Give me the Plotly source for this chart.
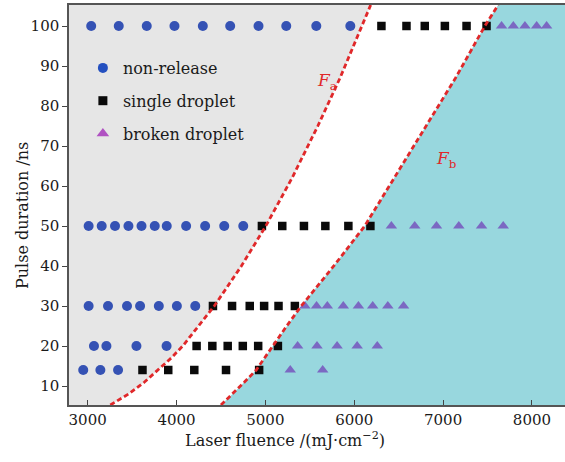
import plotly.graph_objects as go

# ---- data ----
# non-release (circles), fluence in mJ/cm^2 for each pulse duration row
nr_100 = [3040, 3350, 3665, 3977, 4296, 4604, 4923, 5235, 5573, 5956]
nr_50 = [3011, 3158, 3308, 3459, 3606, 3755, 3890, 4108, 4322, 4537, 4751]
nr_30 = [3011, 3229, 3443, 3590, 3801, 4004, 4211]
nr_20 = [3071, 3211, 3549, 3888]
nr_14 = [2950, 3143, 3342]

# single droplet (squares)
sd_100 = [6306, 6588, 6794, 7020, 7264, 7489]
sd_50 = [4961, 5190, 5434, 5675, 5934, 6182]
sd_30 = [4410, 4625, 4824, 4986, 5148, 5332]
sd_20 = [4226, 4403, 4576, 4746, 4919, 5141]
sd_14 = [3617, 3907, 4200, 4557, 4930]

# broken droplet (triangles)
bd_100 = [7658, 7790, 7921, 8053, 8165]
bd_50 = [6418, 6681, 6926, 7177, 7433, 7677]
bd_30 = [5445, 5576, 5697, 5877, 6047, 6208, 6378, 6555]
bd_20 = [5363, 5581, 5807, 6033, 6259]
bd_14 = [5280, 5645]

# threshold curves (pulse duration -> fluence)
curve_tau = [5.25, 8, 11, 14, 17, 20, 25, 30, 40, 50, 62, 75, 87, 100, 105.25]
fa_fluence = [3255, 3460, 3640, 3793, 3940, 4070, 4250, 4425, 4730, 5005, 5300, 5590, 5840, 6090, 6185]
fb_fluence = [4500, 4630, 4765, 4897, 4990, 5085, 5240, 5404, 5770, 6118, 6450, 6810, 7140, 7470, 7620]

x_ticks = [3000, 4000, 5000, 6000, 7000, 8000]
y_ticks = [10, 20, 30, 40, 50, 60, 70, 80, 90, 100]
legend_names = ["non-release", "single droplet", "broken droplet"]

X_RANGE = [2790, 8372]
Y_RANGE = [5.25, 105.25]


def flatten(rows):
    xs, ys = [], []
    for tau, vals in rows:
        xs += vals
        ys += [tau] * len(vals)
    return xs, ys


nr_x, nr_y = flatten([(100, nr_100), (50, nr_50), (30, nr_30), (20, nr_20), (14, nr_14)])
sd_x, sd_y = flatten([(100, sd_100), (50, sd_50), (30, sd_30), (20, sd_20), (14, sd_14)])
bd_x, bd_y = flatten([(100, bd_100), (50, bd_50), (30, bd_30), (20, bd_20), (14, bd_14)])

SERIF = "DejaVu Serif"
RED = "#e0282a"
GRAY_FILL = "#e6e6e6"
CYAN_FILL = "#98d7de"
TEXT = "#1a1a1a"

fig = go.Figure()

# gray region left of Fa
fig.add_trace(go.Scatter(
    x=[X_RANGE[0]] + fa_fluence + [X_RANGE[0]],
    y=[curve_tau[0]] + curve_tau + [curve_tau[-1]],
    fill="toself", fillcolor=GRAY_FILL, mode="lines", line=dict(width=0),
    showlegend=False, hoverinfo="skip"))

# cyan region right of Fb
fig.add_trace(go.Scatter(
    x=[X_RANGE[1]] + fb_fluence + [X_RANGE[1]],
    y=[curve_tau[0]] + curve_tau + [curve_tau[-1]],
    fill="toself", fillcolor=CYAN_FILL, mode="lines", line=dict(width=0),
    showlegend=False, hoverinfo="skip"))

# data points
fig.add_trace(go.Scatter(x=nr_x, y=nr_y, mode="markers", showlegend=False,
                         marker=dict(symbol="circle", size=10, color="#3552b4")))
fig.add_trace(go.Scatter(x=sd_x, y=sd_y, mode="markers", showlegend=False,
                         marker=dict(symbol="square", size=8.5, color="#0a0a0a")))
fig.add_trace(go.Scatter(x=bd_x, y=bd_y, mode="markers", showlegend=False,
                         marker=dict(symbol="triangle-up", size=10, color="#7b68c2")))

# threshold lines
for fl in (fa_fluence, fb_fluence):
    fig.add_trace(go.Scatter(x=fl, y=curve_tau, mode="lines", showlegend=False,
                             line=dict(color=RED, width=2.8, dash="5px,3px"),
                             hoverinfo="skip"))

# legend entries
legend_styles = [("circle", "#2450c0", 10), ("square", "#0a0a0a", 9), ("triangle-up", "#b052c2", 11)]
for i, (name, (sym, col, sz)) in enumerate(zip(legend_names, legend_styles)):
    fig.add_trace(go.Scatter(x=[None], y=[None], mode="markers", name=name,
                             legendgroup=f"g{i}",
                             marker=dict(symbol=sym, color=col, size=sz)))

annotations = [
    dict(x=5698, y=86.2, xref="x", yref="y", showarrow=False,
         text="<i>F</i><sub>a</sub>", font=dict(family=SERIF, size=17, color=RED)),
    dict(x=7041, y=66.7, xref="x", yref="y", showarrow=False,
         text="<i>F</i><sub>b</sub>", font=dict(family=SERIF, size=17, color=RED)),
    dict(x=0.435, y=-0.0875, xref="paper", yref="paper", showarrow=False,
         xanchor="center", yanchor="middle",
         text="Laser fluence /(mJ·cm<sup>−2</sup>)",
         font=dict(family=SERIF, size=16, color=TEXT)),
    dict(x=-0.0948, y=0.475, xref="paper", yref="paper", showarrow=False,
         xanchor="center", yanchor="middle", textangle=-90,
         text="Pulse duration /ns",
         font=dict(family=SERIF, size=16, color=TEXT)),
]

fig.update_layout(
    width=565, height=462,
    margin=dict(l=69, r=0, t=5, b=57),
    paper_bgcolor="white", plot_bgcolor="white",
    font=dict(family=SERIF, size=15, color=TEXT),
    annotations=annotations,
    legend=dict(x=0.028, y=0.885, xanchor="left", yanchor="top",
                bgcolor="rgba(0,0,0,0)", font=dict(family=SERIF, size=16, color=TEXT),
                traceorder="grouped", tracegroupgap=9, itemwidth=30),
)
fig.update_xaxes(range=X_RANGE, tickvals=x_ticks, ticks="inside", ticklen=5,
                 tickcolor="#444", tickwidth=1.2, showgrid=False, zeroline=False,
                 showline=True, linecolor="#555", linewidth=1.5, mirror=True,
                 tickfont=dict(family=SERIF, size=15, color=TEXT))
fig.update_yaxes(range=Y_RANGE, tickvals=y_ticks, ticks="outside", ticklen=5,
                 tickcolor="#444", tickwidth=1.2, showgrid=False, zeroline=False,
                 showline=True, linecolor="#555", linewidth=1.5,
                 tickfont=dict(family=SERIF, size=15, color=TEXT))

fig.write_html("out.html", config={"displayModeBar": False},
               post_script="document.body.style.margin='0';")
